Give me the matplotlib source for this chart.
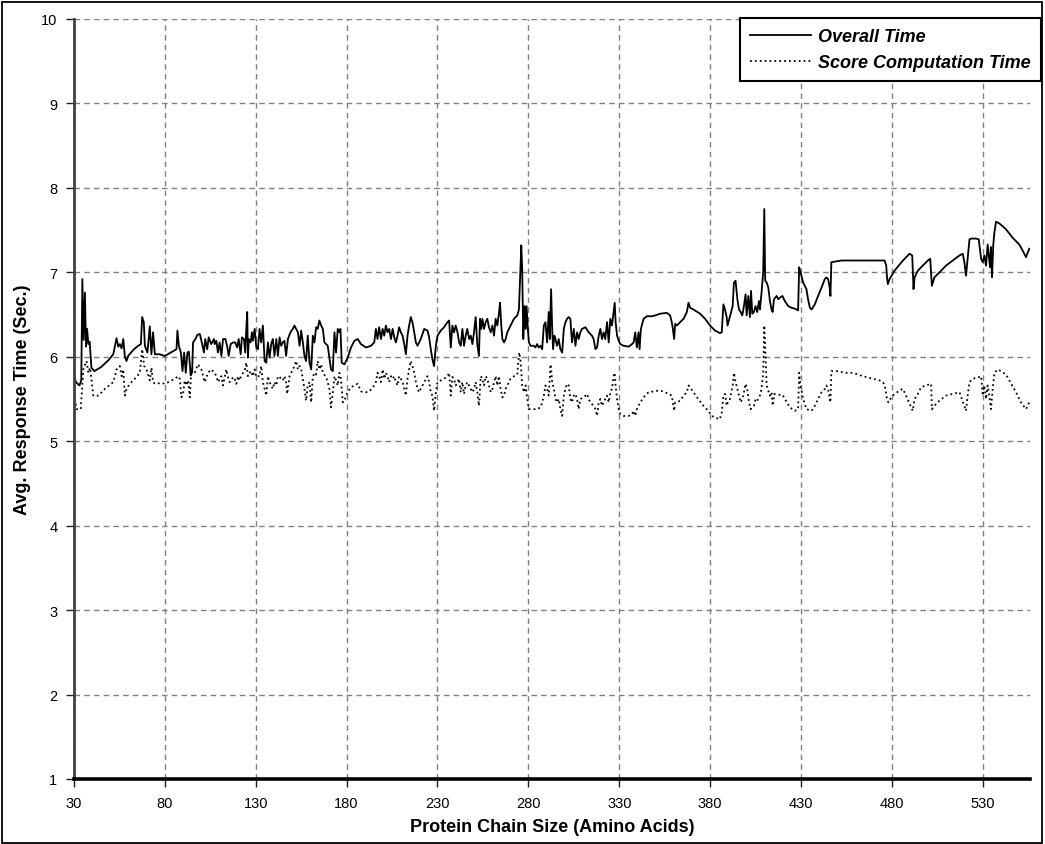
import matplotlib
matplotlib.use("Agg")
import matplotlib.pyplot as plt
from matplotlib.lines import Line2D
from matplotlib.patches import Rectangle

# ---------------------------------------------------------------------------
# Average response time versus protein chain size
# ---------------------------------------------------------------------------

# Overall time (seconds) against chain size (amino acids)
overall_size = [
    30, 31, 33, 34, 34.6, 35.3, 36, 36.6, 37.2, 37.9,
    38.6, 39.6, 41.2, 45, 49, 51.6, 53.4, 54.3, 55.2, 56.2,
    57.1, 58, 58.9, 59.8, 63, 65.3, 66.8, 67.5, 68.4, 69,
    70.4, 71.7, 72.6, 73.5, 74.5, 77, 80, 86.4, 86.9, 87.7,
    88.8, 89.7, 90.6, 91.5, 92.4, 93.2, 94.2, 95, 95.5, 96.8,
    97.9, 99.2, 100.1, 101.5, 102.2, 103.3, 104.1, 105.5, 107,
    107.4, 108.3, 109.2, 110.1, 111.1, 112.0, 113.3, 114.4, 115.1, 116.2,
    117.5, 118.7, 119.8, 120.6, 121.7, 122.4, 123.5, 124.2, 124.8, 125.3,
    125.7, 126.2, 127.2, 127.9, 128.4, 129.4, 130.3, 131.2, 132.1, 133.0,
    133.9, 134.9, 135.8, 136.7, 137.6, 138.5, 139.4, 140.3, 141.3, 142.2,
    143.1, 144.0, 144.9, 145.8, 146.7, 147.7, 149.1, 150.4, 151.3, 152.2,
    153.2, 154.1, 155.0, 155.9, 156.8, 157.7, 158.6, 159.6, 160.5, 161.4,
    162.3, 163.2, 164.1, 165.0, 166.0, 166.9, 167.8, 169.6, 170.5, 171.4,
    172.4, 173.3, 174.2, 175.1, 176.0, 176.6, 177.3, 178.8, 180.6, 182.4,
    184.3, 186.1, 187.9, 190.7, 193.4,
    195.2, 196.1, 197.0, 197.9, 198.9, 199.8, 200.7, 201.6, 202.5, 203.4,
    204.4, 205.3, 206.2, 207.1, 208.0, 208.9, 209.8, 210.8, 211.7, 212.6,
    213.5, 214.4, 215.3, 216.2, 217.2, 218.1, 219.0, 220.8, 222.7, 224.5,
    225.4, 226.3, 227.2, 228.1, 229.1, 230.0, 231.8, 233.6, 235.5, 236.4,
    237.3, 238.2, 239.1, 240.0, 241.0, 241.9, 242.8, 243.7, 244.6, 245.5,
    246.4, 247.4, 248.3, 249.2, 250.1, 251.0, 251.9, 252.8, 253.4, 254.1,
    254.7, 255.6, 256.5, 257.4, 258.3, 259.3, 260.2, 261.1, 262.0, 262.9,
    263.8, 264.4, 265.1, 265.7, 266.6, 267.5, 268.4, 270.2, 272.1, 273.9,
    274.8, 275.4, 276.1, 276.6, 277.2, 277.9, 278.5, 279.0, 279.7, 280.3,
    281.2,
    283.0, 283.9, 284.8, 285.7, 286.7, 287.6, 288.5, 289.4, 290.3, 291.2,
    291.8, 292.5, 293.1, 293.6, 294.3, 294.9, 295.8, 296.7, 297.6, 298.6,
    299.5, 300.4, 301.3, 302.2, 303.1, 304.0, 305.0, 305.9, 306.8, 307.7,
    308.6, 309.5, 311.4, 313.2, 315.0, 315.9, 316.9, 317.8, 318.7, 319.6,
    320.5, 321.4, 322.3, 323.3, 324.2, 325.1, 326.0, 326.9, 327.5, 328.0,
    328.8, 329.7, 330.6, 332.4, 335.2, 337.0, 337.9, 338.8, 339.7, 340.6,
    341.2, 341.9, 343.4, 345.2, 348.0, 349.8, 352.5, 356.2, 358.0, 358.9,
    359.5, 360.2, 360.8, 361.7, 363.5, 365.4, 367.2, 368.1, 369.0,
    370.8, 374.5, 377.2, 380.0, 382.7, 385.4, 386.4, 387.3, 388.2, 389.1,
    389.6, 390.6, 391.3, 392.4, 393.1, 394.0, 395.0, 395.9, 396.8, 397.7,
    398.6, 399.5, 400.1, 401.0, 401.9, 402.5, 403.2, 404.1, 405.0, 405.9,
    406.9, 407.4, 408.3, 409.2, 409.8, 410.3, 411.1, 412.0, 412.9, 413.8,
    414.4, 415.1, 416.6, 417.5, 418.4, 419.8, 421.1, 423.0, 424.8, 426.6,
    428.4, 429.0, 429.7, 431.2, 433.0, 433.9, 434.9, 435.8, 437.6, 439.4,
    441.3, 443.1, 444.0, 444.9, 445.8, 446.2, 446.7, 449.5, 452.2,
    476.0, 476.9, 477.4, 477.8, 478.7, 481.5, 486.1, 489.7, 491.2, 491.9,
    492.5, 494.3, 497.0, 499.8, 501.1, 502.0, 503.4, 506.2, 509.8, 513.5,
    517.2, 519.0, 519.9, 520.8, 521.7, 522.7, 523.6, 526.3, 527.8, 529.1,
    530.0, 530.9, 531.8, 532.7, 533.3, 534.0, 534.5, 535.1, 535.8, 536.4,
    537.3, 539.1, 542.8, 546.4, 550.1, 551.9, 553.8, 555.6,
]
overall_time = [
    5.80, 5.70, 5.66, 5.72, 6.92, 6.20, 6.76, 6.12, 6.33, 6.15,
    6.18, 5.87, 5.83, 5.88, 5.96, 6.03, 6.22, 6.12, 6.15, 6.10,
    6.21, 6.00, 5.95, 6.01, 6.09, 6.13, 6.15, 6.47, 6.41, 6.13,
    6.05, 6.36, 6.03, 6.29, 6.03, 6.03, 6.01, 6.09, 6.31, 6.13,
    6.05, 5.83, 6.05, 5.81, 6.05, 6.06, 5.78, 5.82, 6.17, 6.21,
    6.26, 6.27, 6.19, 6.05, 6.21, 6.09, 6.23, 6.15, 6.21,
    6.15, 6.19, 6.05, 6.17, 6.01, 6.21, 6.21, 6.11, 6.01, 6.15,
    6.17, 6.17, 6.11, 6.21, 6.03, 6.23, 6.21, 6.05, 6.33, 6.53,
    5.99, 6.21, 6.17, 6.29, 6.19, 6.33, 6.11, 6.09, 6.33, 6.17,
    6.37, 5.95, 5.93, 6.17, 5.99, 6.15, 6.21, 6.01, 6.21, 6.01,
    6.23, 6.13, 6.17, 6.19, 6.01, 6.21, 6.29, 6.33, 6.37, 6.33,
    6.29, 6.13, 6.31, 6.17, 6.01, 5.95, 6.25, 5.93, 5.85, 6.25,
    6.17, 6.35, 6.33, 6.43, 6.37, 6.33, 6.17, 6.13, 5.99, 5.85,
    5.83, 6.29, 6.05, 6.33, 6.29, 6.33, 5.93, 5.91, 5.99, 6.11,
    6.19, 6.21, 6.15, 6.11, 6.13,
    6.17, 6.33, 6.21, 6.35, 6.21, 6.33, 6.25, 6.37, 6.29, 6.33,
    6.21, 6.33, 6.23, 6.17, 6.25, 6.35, 6.29, 6.25, 6.15, 6.03,
    6.25, 6.37, 6.47, 6.41, 6.29, 6.17, 6.13, 6.21, 6.33, 6.31,
    6.23, 6.09, 5.97, 5.89, 6.13, 6.25, 6.31, 6.35, 6.41, 6.43,
    6.11, 6.37, 6.29, 6.37, 6.29, 6.17, 6.13, 6.33, 6.13, 6.25,
    6.33, 6.21, 6.25, 6.15, 6.29, 6.47, 6.15, 6.01, 6.45, 6.33,
    6.45, 6.33, 6.41, 6.45, 6.35, 6.29, 6.37, 6.25, 6.45, 6.37,
    6.51, 6.64, 6.37, 6.21, 6.17, 6.21, 6.29, 6.37, 6.45, 6.49,
    6.56, 6.92, 7.32, 7.04, 6.21, 6.60, 6.33, 6.60, 6.33, 6.17,
    6.13,
    6.13, 6.11, 6.15, 6.11, 6.13, 6.09, 6.37, 6.41, 6.17, 6.53,
    6.21, 6.80, 6.33, 6.09, 6.25, 6.21, 6.13, 6.21, 6.09, 6.05,
    6.33, 6.41, 6.45, 6.47, 6.45, 6.17, 6.33, 6.13, 6.29, 6.21,
    6.29, 6.33, 6.35, 6.29, 6.25, 6.21, 6.09, 6.11, 6.25, 6.33,
    6.21, 6.29, 6.21, 6.41, 6.17, 6.45, 6.37, 6.53, 6.64, 6.41,
    6.25, 6.19, 6.15, 6.13, 6.12, 6.15, 6.17, 6.29, 6.11, 6.29,
    6.09, 6.33, 6.45, 6.48, 6.48, 6.49, 6.51, 6.52, 6.49, 6.41,
    6.33, 6.21, 6.39, 6.37, 6.41, 6.45, 6.53, 6.64, 6.58,
    6.56, 6.51, 6.45, 6.37, 6.31, 6.28, 6.29, 6.62, 6.56, 6.47,
    6.37, 6.45, 6.51, 6.60, 6.88, 6.90, 6.68, 6.56, 6.53, 6.49,
    6.60, 6.74, 6.49, 6.72, 6.47, 6.78, 6.51, 6.53, 6.60, 6.53,
    6.66, 6.56, 6.76, 7.00, 7.75, 6.90, 6.88, 6.82, 6.66, 6.56,
    6.53, 6.68, 6.72, 6.68, 6.70, 6.72, 6.66, 6.60, 6.58, 6.57,
    6.55, 7.06, 7.00, 6.88, 6.80, 6.68, 6.58, 6.56, 6.62, 6.72,
    6.82, 6.92, 6.94, 6.92, 6.82, 6.72, 7.12, 7.13, 7.14,
    7.14, 7.08, 6.92, 6.86, 6.92, 7.02, 7.14, 7.22, 7.20, 6.80,
    6.94, 7.02, 7.08, 7.14, 7.16, 6.84, 6.94, 7.00, 7.08, 7.14,
    7.20, 7.22, 7.12, 6.96, 7.16, 7.39, 7.40, 7.40, 7.39, 7.16,
    7.12, 7.20, 7.08, 7.33, 7.20, 7.06, 7.30, 6.94, 7.33, 7.47,
    7.60, 7.58, 7.51, 7.41, 7.33, 7.26, 7.18, 7.28,
]

# Score computation time (seconds) against chain size (amino acids)
score_size = [
    30.5, 31.4, 33.7, 34.2, 35.1, 36.9, 37.9, 38.8, 39.7, 40.6,
    43.4, 47.0, 51.6, 52.5, 53.4, 55.2, 56.2, 57.1, 58.0, 58.9,
    60.7, 63.5, 66.2, 67.5, 68.6, 69.9, 71.7, 72.6, 73.5, 74.5,
    78.1, 80.0, 85.5, 87.3, 88.2, 89.1, 90.0, 90.9, 91.8, 92.8,
    93.7, 94.6, 96.4, 98.2, 100.1, 101.9, 103.7, 105.5,
    107.4, 108.3, 109.2, 111.1, 112.0, 113.8, 114.7, 115.6, 116.6, 117.5,
    118.4, 119.3, 120.2, 121.1, 122.0, 123.0, 123.9, 124.8, 125.7, 126.6,
    127.5, 128.4, 129.4, 130.3, 131.2, 132.1, 133.0, 133.9, 134.9, 135.8,
    136.7, 137.6, 138.5, 139.4, 140.3, 141.3, 142.2, 143.1, 144.0, 144.9,
    145.8, 146.7, 147.3, 148.6, 150.4, 151.3, 152.2, 153.2, 154.1, 155.0,
    155.9, 156.8, 157.7, 158.6, 159.6, 160.5, 161.4, 162.3, 163.2, 164.1,
    165.0, 166.0, 166.9, 168.7, 169.6, 170.5, 171.4, 172.4, 173.3, 174.2,
    175.1, 176.0, 176.9, 177.9, 178.8, 179.7, 180.6, 182.4, 184.3, 186.1,
    187.9, 190.7, 192.5,
    195.2, 196.1, 197.0, 197.9, 198.9, 199.8, 200.7, 201.6, 202.5, 203.4,
    204.4, 205.3, 206.2, 207.1, 208.0, 208.9, 209.8, 210.8, 211.7, 212.6,
    213.5, 214.4, 215.3, 216.2, 217.2, 218.1, 219.0, 219.9, 220.8, 222.7,
    224.5, 225.4, 226.3, 227.2, 228.1, 229.1, 230.0, 231.8, 233.6, 235.5,
    236.4, 237.3, 238.2, 239.1, 240.0, 241.0, 241.9, 242.8, 243.7, 244.6,
    245.5, 246.4, 248.3, 249.2, 250.1, 251.0, 251.9, 252.8, 253.8, 254.7,
    255.6, 256.5, 257.4, 258.3, 259.3, 260.2, 261.1, 262.0, 262.9, 263.8,
    264.7, 265.7, 266.6, 267.5, 268.4, 269.3, 270.2, 272.1, 273.9, 274.4,
    275.0, 275.7, 276.6, 277.6, 278.5, 279.4, 280.3,
    283.0, 284.8, 286.7, 287.6, 288.5, 289.4, 290.3, 291.2, 291.8, 292.2,
    292.7, 293.1, 294.0, 294.9, 295.8, 296.7, 297.6, 298.6, 299.5, 300.4,
    301.3, 302.2, 303.1, 304.0, 305.0, 305.9, 306.8, 307.7, 308.6, 310.5,
    311.4, 312.3, 313.2, 314.1, 315.9, 316.9, 317.8, 318.7, 319.6, 320.5,
    321.4, 322.3, 323.3, 324.2, 325.1, 326.0, 326.9, 327.5, 328.0, 328.8,
    329.7, 330.6, 332.4, 335.2, 337.0, 337.9, 338.8, 339.7, 340.6, 341.6,
    343.4, 346.1, 348.9, 351.6, 354.4, 357.1, 358.9, 359.5, 360.2, 360.8,
    361.7, 363.5, 365.4, 367.2, 368.1, 369.0,
    370.8, 373.5, 376.3, 379.0, 380.9, 382.7, 385.4, 386.4, 387.3, 388.2,
    389.1, 390.0, 390.9, 392.4, 393.1, 394.0, 395.0, 395.9, 396.8, 397.7,
    398.6, 399.5, 400.4, 401.4, 402.3, 403.2, 404.1, 405.0, 405.9, 406.9,
    407.8, 408.7, 409.2, 409.8, 410.3, 411.1, 412.0, 412.9, 413.8, 414.4,
    415.3, 417.5, 419.8, 423.9, 426.6, 428.4, 429.0, 429.7, 430.5, 431.2,
    433.0, 435.8, 437.6, 439.4, 441.3, 443.1, 444.0, 444.9, 446.2, 446.7,
    449.5, 452.2, 455.0,
    458.6, 464.1, 469.6, 473.2, 475.1, 476.0, 476.9, 477.4, 478.2, 479.6,
    481.5, 484.2, 486.1, 491.5, 492.5, 494.3, 496.1, 501.6, 502.0, 503.4,
    506.2, 509.8, 513.5, 517.2, 520.8, 521.7, 522.7, 524.5, 528.1, 529.1,
    530.0, 530.9, 531.8, 532.7, 533.6, 534.5, 535.5, 536.4, 538.2, 540.0,
    542.8, 544.6, 548.3, 551.0, 553.8, 555.6,
]
score_time = [
    5.50, 5.38, 5.38, 5.54, 5.85, 5.95, 5.81, 5.87, 5.72, 5.54,
    5.54, 5.62, 5.70, 5.77, 5.85, 5.89, 5.77, 5.85, 5.54, 5.62,
    5.68, 5.74, 5.81, 6.09, 5.89, 5.85, 5.72, 5.87, 5.70, 5.68,
    5.69, 5.68, 5.74, 5.77, 5.74, 5.52, 5.56, 5.72, 5.66, 5.72,
    5.52, 5.85, 5.81, 5.91, 5.85, 5.70, 5.81, 5.85,
    5.81, 5.77, 5.70, 5.77, 5.66, 5.85, 5.76, 5.70, 5.72, 5.76,
    5.74, 5.68, 5.77, 5.72, 5.77, 5.81, 5.83, 5.93, 5.77, 5.81,
    5.83, 5.77, 5.85, 5.76, 5.77, 5.77, 5.89, 5.70, 5.62, 5.54,
    5.77, 5.70, 5.66, 5.62, 5.70, 5.66, 5.77, 5.76, 5.74, 5.72,
    5.77, 5.70, 5.56, 5.77, 5.85, 5.89, 5.95, 5.85, 5.89, 5.85,
    5.74, 5.62, 5.48, 5.66, 5.70, 5.46, 5.76, 5.81, 5.79, 5.95,
    5.85, 5.91, 5.81, 5.76, 5.70, 5.62, 5.40, 5.58, 5.77, 5.72,
    5.66, 5.81, 5.74, 5.46, 5.48, 5.54, 5.58, 5.64, 5.66, 5.68,
    5.59, 5.58, 5.59,
    5.66, 5.70, 5.81, 5.77, 5.70, 5.85, 5.74, 5.81, 5.77, 5.70,
    5.77, 5.74, 5.77, 5.70, 5.66, 5.77, 5.74, 5.70, 5.62, 5.54,
    5.74, 5.85, 5.95, 5.89, 5.81, 5.70, 5.62, 5.58, 5.62, 5.70,
    5.77, 5.70, 5.58, 5.54, 5.36, 5.58, 5.70, 5.72, 5.74, 5.77,
    5.81, 5.54, 5.76, 5.74, 5.66, 5.70, 5.74, 5.58, 5.70, 5.56,
    5.66, 5.70, 5.62, 5.58, 5.62, 5.70, 5.58, 5.42, 5.77, 5.74,
    5.66, 5.77, 5.74, 5.66, 5.58, 5.62, 5.70, 5.77, 5.66, 5.77,
    5.62, 5.52, 5.54, 5.62, 5.66, 5.70, 5.74, 5.77, 5.79, 5.93,
    6.05, 5.95, 5.66, 5.58, 5.66, 5.50, 5.38,
    5.38, 5.38, 5.40, 5.46, 5.54, 5.66, 5.62, 5.54, 5.77, 5.91,
    5.81, 5.70, 5.62, 5.50, 5.46, 5.50, 5.38, 5.30, 5.54, 5.62,
    5.68, 5.66, 5.50, 5.46, 5.54, 5.56, 5.50, 5.38, 5.50, 5.52,
    5.54, 5.56, 5.50, 5.46, 5.42, 5.38, 5.30, 5.46, 5.50, 5.42,
    5.46, 5.50, 5.54, 5.46, 5.58, 5.62, 5.77, 5.81, 5.66, 5.50,
    5.38, 5.32, 5.30, 5.30, 5.32, 5.36, 5.30, 5.38, 5.42, 5.46,
    5.52, 5.58, 5.59, 5.60, 5.59, 5.56, 5.54, 5.46, 5.36, 5.46,
    5.46, 5.48, 5.54, 5.58, 5.66, 5.64,
    5.58, 5.50, 5.42, 5.36, 5.30, 5.28, 5.26, 5.34, 5.54, 5.56,
    5.42, 5.48, 5.50, 5.66, 5.81, 5.70, 5.62, 5.54, 5.46, 5.50,
    5.58, 5.68, 5.62, 5.46, 5.38, 5.40, 5.42, 5.50, 5.48, 5.52,
    5.56, 5.70, 5.81, 6.37, 6.09, 5.66, 5.60, 5.54, 5.58, 5.42,
    5.56, 5.55, 5.55, 5.40, 5.36, 5.38, 5.81, 5.66, 5.58, 5.50,
    5.38, 5.36, 5.42, 5.50, 5.58, 5.62, 5.66, 5.62, 5.46, 5.83,
    5.83, 5.82, 5.81,
    5.81, 5.77, 5.74, 5.72, 5.70, 5.66, 5.56, 5.48, 5.46, 5.52,
    5.56, 5.60, 5.62, 5.36, 5.50, 5.56, 5.64, 5.68, 5.38, 5.42,
    5.48, 5.54, 5.56, 5.58, 5.36, 5.54, 5.70, 5.74, 5.76, 5.77,
    5.54, 5.66, 5.50, 5.66, 5.54, 5.38, 5.62, 5.81, 5.85, 5.83,
    5.79, 5.72, 5.58, 5.46, 5.38, 5.46,
]

x_ticks = list(range(30, 531, 50))
y_ticks = list(range(1, 11))
series_labels = ["Overall Time", "Score Computation Time"]

NARROW = ["Liberation Sans Narrow", "Liberation Sans", "DejaVu Sans"]
REGULAR = ["Liberation Sans", "DejaVu Sans"]

W, H = 1045, 845
fig = plt.figure(figsize=(W / 100, H / 100), dpi=100)
fig.patch.set_facecolor("white")

left, right, top, bottom = 74, 1030, 20, 780
ax = fig.add_axes([left / W, (H - bottom) / H, (right - left) / W, (bottom - top) / H])

dotted = (0, (1.0, 1.7))
ax.plot(score_size, score_time, color="black", lw=1.3, linestyle=dotted,
        solid_capstyle="butt", zorder=3)
ax.plot(overall_size, overall_time, color="black", lw=1.3, zorder=4)

ax.set_xlim(30, 556)
ax.set_ylim(1, 10)
ax.set_xticks(x_ticks)
ax.set_yticks(y_ticks)
ax.grid(True, color="#808080", linestyle=(0, (4, 3)), lw=1.0, zorder=0)

for s in ("top", "right"):
    ax.spines[s].set_visible(False)
ax.spines["left"].set_color("#404040")
ax.spines["left"].set_linewidth(2.0)
ax.spines["bottom"].set_color("black")
ax.spines["bottom"].set_linewidth(2.6)
ax.spines["left"].set_zorder(5)
ax.spines["bottom"].set_zorder(5)

ax.tick_params(axis="both", direction="out", length=6, width=1.0, color="#202020",
               labelsize=10.5, pad=6)
for lab in ax.get_xticklabels() + ax.get_yticklabels():
    lab.set_family(NARROW)

ax.set_xlabel("Protein Chain Size (Amino Acids)", family=NARROW, fontsize=13,
              fontweight="bold", labelpad=6)
ax.set_ylabel("Avg. Response Time (Sec.)", family=NARROW, fontsize=13,
              fontweight="bold", labelpad=7)

handles = [
    Line2D([], [], color="black", lw=1.3),
    Line2D([], [], color="black", lw=1.3, linestyle=dotted),
]
leg = fig.legend(handles, series_labels, loc="upper right",
                 bbox_to_anchor=(1041 / W, 1 - 19 / H),
                 prop={"family": REGULAR, "style": "italic", "weight": "bold", "size": 13},
                 frameon=True, fancybox=False, edgecolor="black", framealpha=1,
                 borderaxespad=0, handlelength=3.4, handletextpad=0.4,
                 borderpad=0.55, labelspacing=0.5)
leg.get_frame().set_linewidth(1.5)

# outer chart border
fig.patches.append(Rectangle((2 / W, 1 / H), 1040 / W, 841 / H, transform=fig.transFigure,
                             fill=False, edgecolor="black", lw=1.3))

fig.savefig("out.png", dpi=100)
